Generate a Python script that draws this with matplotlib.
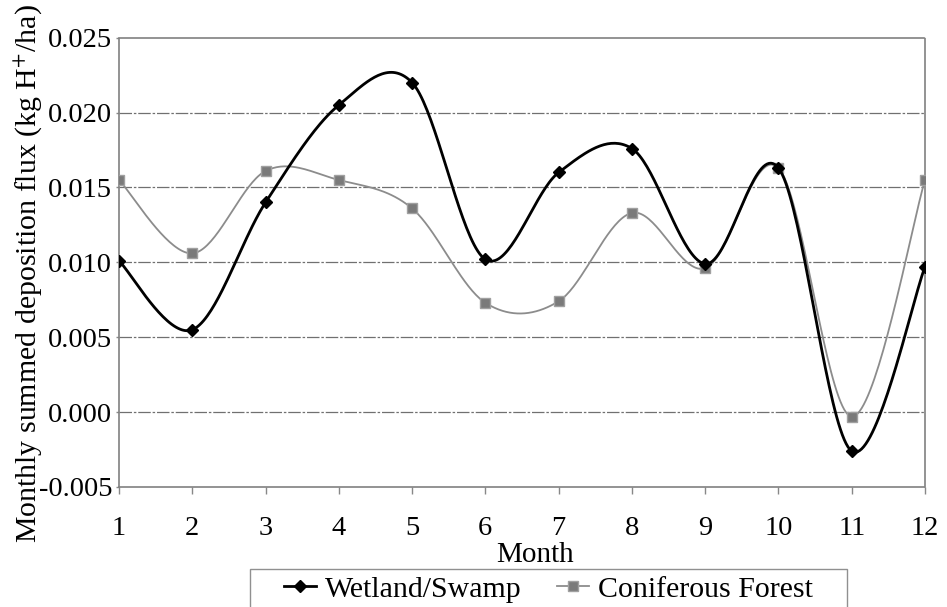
import numpy as np
import matplotlib
matplotlib.use("Agg")
import matplotlib.pyplot as plt
from matplotlib.lines import Line2D
from matplotlib.patches import Rectangle

plt.rcParams['font.family'] = ['Liberation Serif', 'DejaVu Serif']
plt.rcParams['mathtext.fontset'] = 'stix'

# monthly values (kg H+/ha)
months = [1, 2, 3, 4, 5, 6, 7, 8, 9, 10, 11, 12]
wetland = [0.0101, 0.0055, 0.0140, 0.0205, 0.0220, 0.0102, 0.0160, 0.0176,
           0.0099, 0.0163, -0.0026, 0.0097]
conifer = [0.0155, 0.0106, 0.0161, 0.0155, 0.0136, 0.0073, 0.0074, 0.0133,
           0.0096, 0.0163, -0.0003, 0.0155]
yticks = [-0.005, 0.000, 0.005, 0.010, 0.015, 0.020, 0.025]


def smooth(x, y, n=40):
    # Catmull-Rom style bezier through every point
    x = np.asarray(x, float)
    y = np.asarray(y, float)
    px = np.concatenate([[x[0]], x, [x[-1]]])
    py = np.concatenate([[y[0]], y, [y[-1]]])
    t = np.linspace(0, 1, n)[:, None]
    xs, ys = [], []
    for i in range(1, len(px) - 2):
        p0 = np.array([px[i], py[i]])
        p3 = np.array([px[i + 1], py[i + 1]])
        c1 = p0 + (np.array([px[i + 1], py[i + 1]]) - np.array([px[i - 1], py[i - 1]])) / 6
        c2 = p3 - (np.array([px[i + 2], py[i + 2]]) - np.array([px[i], py[i]])) / 6
        b = ((1 - t) ** 3) * p0 + 3 * ((1 - t) ** 2) * t * c1 + 3 * (1 - t) * t ** 2 * c2 + t ** 3 * p3
        xs.append(b[:, 0])
        ys.append(b[:, 1])
    return np.concatenate(xs), np.concatenate(ys)


W, H = 947, 607
fig = plt.figure(figsize=(W / 100, H / 100), dpi=100)
ax = fig.add_axes([119 / W, 1 - 487 / H, 806 / W, 449.3 / H])

for v in yticks[1:-1]:
    ax.axhline(v, color='#707070', lw=0.9, ls=(0, (10, 1.5, 2, 1.5)), zorder=1)

cx, cy = smooth(months, conifer)
ax.plot(cx, cy, color='#8c8c8c', lw=1.3, zorder=2)
ax.plot(months, conifer, ls='none', marker='s', ms=7, mfc='#7a7a7a', mec='#a0a0a0',
        mew=1, zorder=3)

wx, wy = smooth(months, wetland)
ax.plot(wx, wy, color='black', lw=2, zorder=4)
ax.plot(months, wetland, ls='none', marker='D', ms=6.5, mfc='black', mec='black', zorder=5)

ax.set_xlim(1, 12)
ax.set_ylim(-0.005, 0.025)
ax.set_xticks(months)
ax.set_yticks(yticks)
ax.set_yticklabels([f"{v:.3f}" for v in yticks])
ax.tick_params(axis='x', direction='out', length=5, width=1, color='#888888',
               labelsize=20.5, pad=16)
ax.tick_params(axis='y', direction='out', length=2, width=1, color='#888888',
               labelsize=20.5, pad=3)

for s in ax.spines.values():
    s.set_color('#808080')
    s.set_linestyle((0, (1, 1)))
    s.set_linewidth(1.2)

ax.set_xlabel('Month', fontsize=21)
ax.xaxis.label.set_va('baseline')
ax.xaxis.set_label_coords(0.516, -0.166)
ax.set_ylabel(r'Monthly summed deposition flux (kg H$^{+}$/ha)', fontsize=21.5)
ax.yaxis.set_label_coords(-0.093, 0.474)

handles = [
    Line2D([], [], color='black', lw=2, marker='D', ms=6, mfc='black'),
    Line2D([], [], color='#8c8c8c', lw=1.3, marker='s', ms=6.5, mfc='#7a7a7a', mec='#a0a0a0'),
]
leg = fig.legend(handles, ['Wetland/Swamp', 'Coniferous Forest'], ncol=2,
                 loc='upper center', bbox_to_anchor=(548.5 / W, 1 - 573 / H),
                 fontsize=21.5, frameon=False, handlelength=1.07,
                 handletextpad=0.3, columnspacing=1.17, borderpad=0.1,
                 borderaxespad=0)
# legend box runs off the bottom edge
fig.patches.append(Rectangle((250 / W, -0.02), 597 / W, 0.02 + 1 - 569 / H,
                             transform=fig.transFigure, fill=False,
                             edgecolor='#909090', lw=1))

fig.savefig('out.png', dpi=100)
